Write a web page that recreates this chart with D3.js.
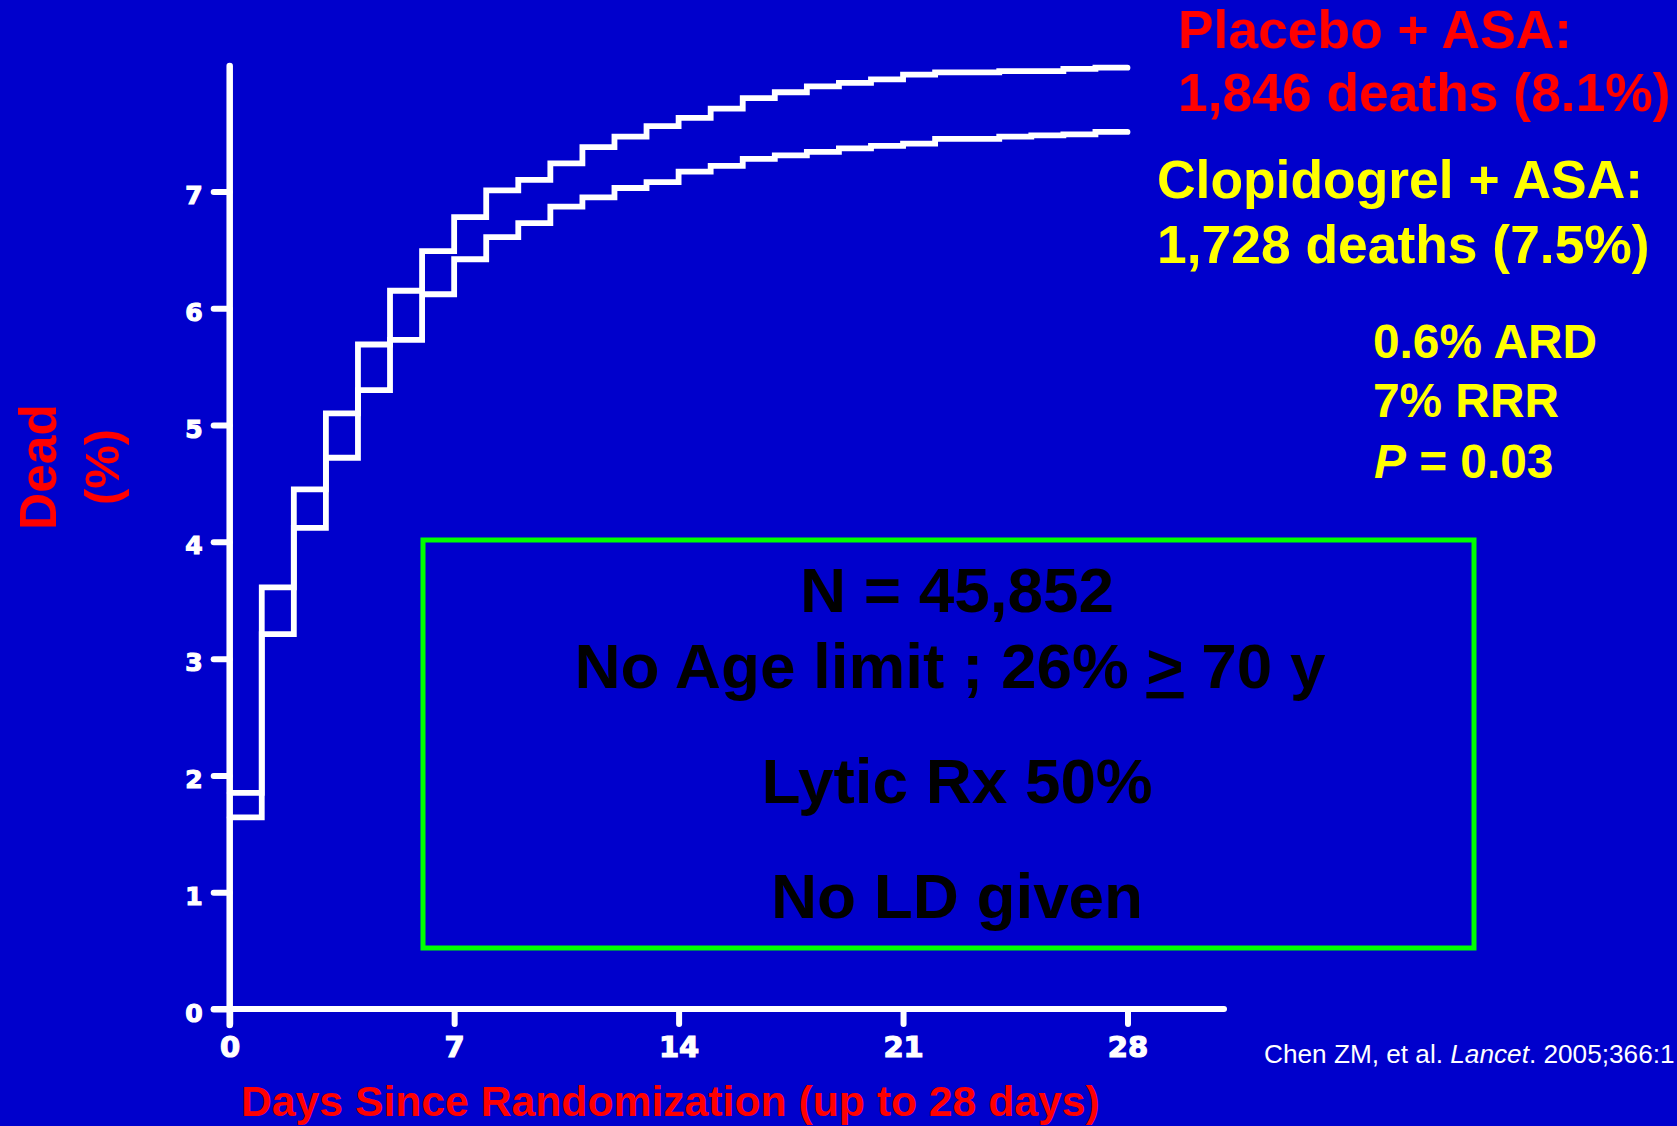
<!DOCTYPE html>
<html>
<head>
<meta charset="utf-8">
<script src="https://cdn.jsdelivr.net/npm/d3@7"></script>
<style>
  html, body { margin: 0; padding: 0; background: #0000cc; overflow: hidden; }
  svg { display: block; }
</style>
</head>
<body>
<svg id="chart" width="1677" height="1126"></svg>
<script>
// Cumulative mortality (%) by day since randomization, step value held until the next day
const days = [0, 1, 2, 3, 4, 5, 6, 7, 8, 9, 10, 11, 12, 13, 14, 15, 16, 17, 18, 19, 20, 21, 22, 23, 24, 25, 26, 27, 28];
const placeboAsa = [1.85, 3.61, 4.45, 5.10, 5.69, 6.15, 6.49, 6.78, 7.01, 7.10, 7.24, 7.38, 7.47, 7.56, 7.63, 7.71, 7.80, 7.85, 7.90, 7.93, 7.96, 8.00, 8.02, 8.02, 8.03, 8.03, 8.05, 8.06, 8.06];
const clopidogrelAsa = [1.64, 3.21, 4.12, 4.72, 5.30, 5.73, 6.12, 6.42, 6.61, 6.73, 6.87, 6.95, 7.03, 7.08, 7.17, 7.22, 7.28, 7.31, 7.34, 7.37, 7.39, 7.41, 7.45, 7.45, 7.47, 7.48, 7.49, 7.51, 7.51];

const yTicks = [0, 1, 2, 3, 4, 5, 6, 7];
const xTicks = [0, 7, 14, 21, 28];

const xTitle = "Days Since Randomization (up to 28 days)";
const yTitle = ["Dead", "(%)"];
const placeboText = ["Placebo + ASA:", "1,846 deaths (8.1%)"];
const clopidogrelText = ["Clopidogrel + ASA:", "1,728 deaths (7.5%)"];
const statsText = ["0.6% ARD", "7% RRR"];
const pValue = "= 0.03";
const trialNotes = ["N = 45,852", "Lytic Rx 50%", "No LD given"];
const citation = ["Chen ZM, et al. ", "Lancet", ". 2005;366:1"];

const svg = d3.select("#chart");
const BLUE = "#0000cc", WHITE = "#ffffff", RED = "#ff0000", YELLOW = "#ffff00", GREEN = "#00ff00";
const SANS = "'Liberation Sans', Arial, sans-serif";
const TICKFONT = "'DejaVu Sans', sans-serif";

svg.append("rect").attr("width", 1677).attr("height", 1126).attr("fill", BLUE);

const x = d3.scaleLinear().domain([0, 28]).range([229.7, 1127.5]);
const y = d3.scaleLinear().domain([0, 7]).range([1009, 191.5]);

// Axis lines
svg.append("line")
  .attr("x1", x(0)).attr("x2", x(0))
  .attr("y1", 66).attr("y2", y(0) + 16)
  .attr("stroke", WHITE).attr("stroke-width", 6.5).attr("stroke-linecap", "round");
svg.append("line")
  .attr("x1", x(0) - 16).attr("x2", 1224)
  .attr("y1", y(0)).attr("y2", y(0))
  .attr("stroke", WHITE).attr("stroke-width", 6).attr("stroke-linecap", "round");

// Y axis ticks and labels
const yAxis = svg.append("g")
  .attr("transform", `translate(${x(0)},0)`)
  .call(d3.axisLeft(y).tickValues(yTicks).tickSize(16).tickPadding(11).tickFormat(d3.format("d")));
yAxis.select(".domain").remove();
yAxis.selectAll(".tick line").attr("stroke", WHITE).attr("stroke-width", 6).attr("stroke-linecap", "round");
yAxis.selectAll(".tick text")
  .attr("fill", WHITE).attr("stroke", WHITE).attr("stroke-width", 1.2).attr("dy", "0.48em")
  .style("font-family", TICKFONT).style("font-weight", "bold").style("font-size", "25px");

// X axis ticks and labels
const xAxis = svg.append("g")
  .attr("transform", `translate(0,${y(0)})`)
  .call(d3.axisBottom(x).tickValues(xTicks).tickSize(15).tickFormat(d3.format("d")));
xAxis.select(".domain").remove();
xAxis.selectAll(".tick line").attr("stroke", WHITE).attr("stroke-width", 6).attr("stroke-linecap", "round");
xAxis.selectAll(".tick text")
  .attr("fill", WHITE).attr("stroke", WHITE).attr("stroke-width", 1.2).attr("y", 48).attr("dy", 0)
  .style("font-family", TICKFONT).style("font-weight", "bold").style("font-size", "29px");

// Kaplan-Meier style step curves
const stepLine = d3.line()
  .x((d, i) => x(days[i]))
  .y(d => y(d))
  .curve(d3.curveStepAfter);

[placeboAsa, clopidogrelAsa].forEach(series => {
  svg.append("path")
    .datum(series)
    .attr("d", stepLine)
    .attr("fill", "none")
    .attr("stroke", WHITE)
    .attr("stroke-width", 5.8)
    .attr("stroke-linejoin", "miter")
    .attr("stroke-linecap", "round");
});

// Axis titles
svg.append("text")
  .attr("x", 241).attr("y", 1116)
  .attr("fill", RED)
  .style("font-family", SANS).style("font-weight", "bold").style("font-size", "42.7px")
  .text(xTitle);

svg.append("text")
  .attr("transform", "translate(56,467) rotate(-90)")
  .attr("text-anchor", "middle").attr("fill", RED)
  .style("font-family", SANS).style("font-weight", "bold").style("font-size", "51.5px")
  .text(yTitle[0]);
svg.append("text")
  .attr("transform", "translate(119,467) rotate(-90)")
  .attr("text-anchor", "middle").attr("fill", RED)
  .style("font-family", SANS).style("font-weight", "bold").style("font-size", "49px")
  .text(yTitle[1]);

// Result annotations, top right
function textLine(str, px, py, size, color) {
  return svg.append("text")
    .attr("x", px).attr("y", py).attr("fill", color)
    .style("font-family", SANS).style("font-weight", "bold").style("font-size", size + "px")
    .text(str);
}
textLine(placeboText[0], 1178, 48, 53.4, RED);
textLine(placeboText[1], 1178, 111, 53.4, RED);
textLine(clopidogrelText[0], 1157, 198, 53.4, YELLOW);
textLine(clopidogrelText[1], 1157, 263, 53.4, YELLOW);
textLine(statsText[0], 1373, 358, 47.8, YELLOW);
textLine(statsText[1], 1373, 417, 47.8, YELLOW);
const pLine = svg.append("text")
  .attr("x", 1374).attr("y", 478).attr("fill", YELLOW)
  .style("font-family", SANS).style("font-weight", "bold").style("font-size", "47.8px");
pLine.append("tspan").style("font-style", "italic").text("P");
pLine.append("tspan").text(" " + pValue);

// Trial characteristics box
svg.append("rect")
  .attr("x", 423).attr("y", 540).attr("width", 1051).attr("height", 408)
  .attr("fill", "none").attr("stroke", GREEN).attr("stroke-width", 5);

function boxLine(py) {
  return svg.append("text")
    .attr("x", 957).attr("y", py).attr("text-anchor", "middle").attr("fill", "#000000")
    .style("font-family", SANS).style("font-weight", "bold").style("font-size", "63.8px");
}
boxLine(612).text(trialNotes[0]);
const ageLine = boxLine(688).attr("x", 950);
ageLine.append("tspan").text("No Age limit ; 26% ");
ageLine.append("tspan").style("text-decoration", "underline").text(">");
ageLine.append("tspan").text(" 70 y");
boxLine(803).text(trialNotes[1]);
boxLine(918).text(trialNotes[2]);

// Source
const cite = svg.append("text")
  .attr("x", 1264).attr("y", 1063).attr("fill", WHITE)
  .style("font-family", SANS).style("font-size", "26.2px");
cite.append("tspan").text(citation[0]);
cite.append("tspan").style("font-style", "italic").text(citation[1]);
cite.append("tspan").text(citation[2]);
</script>
</body>
</html>
